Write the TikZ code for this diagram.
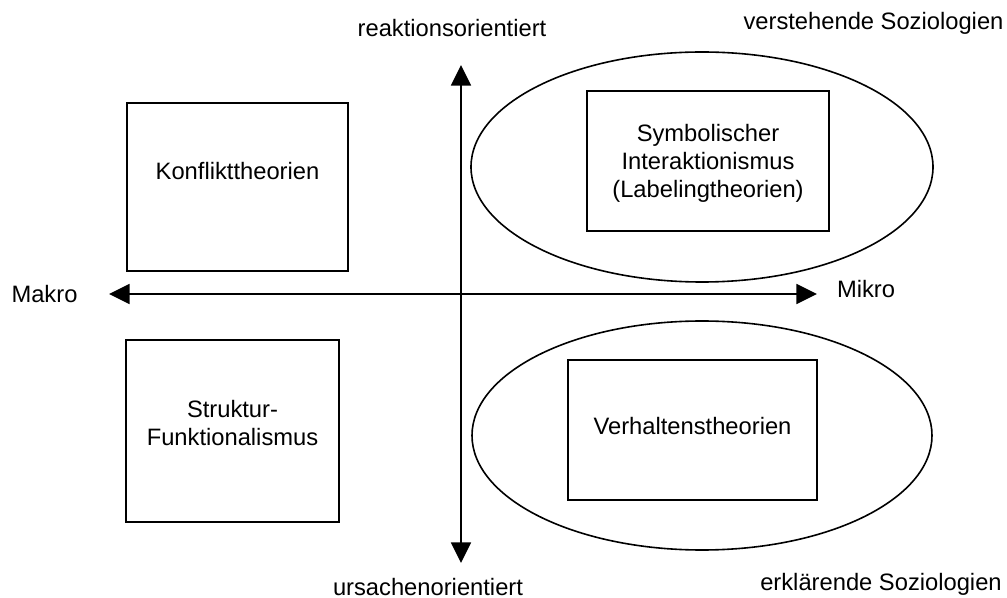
\documentclass[tikz,border=0pt]{standalone}
\usepackage{fontspec}
\setmainfont{Liberation Sans}
\usetikzlibrary{shapes.geometric,arrows.meta}
\begin{document}
\begin{tikzpicture}[x=0.75pt,y=-0.75pt,
  box/.style={draw,line width=1.3pt,rectangle,inner sep=0pt},
  oval/.style={draw,line width=1.2pt,ellipse,inner sep=0pt},
  lbl/.style={font=\fontsize{17.8}{21}\selectfont,inner sep=0pt,align=center},
  axis/.style={line width=1.3pt,{Triangle[length=15.5pt,width=15pt]}-{Triangle[length=15.5pt,width=15pt]}}]
\useasboundingbox (0,0) rectangle (1007,598);
% ellipses
\node[oval,minimum width=346.5pt,minimum height=172.5pt] (eTop) at (702,167) {};
\node[oval,minimum width=345pt,minimum height=171.75pt] (eBot) at (702,435.5) {};
% boxes
\node[box,minimum width=165.75pt,minimum height=126pt] (bK) at (237.5,187) {};
\node[box,minimum width=159.75pt,minimum height=136.5pt] (bS) at (232.5,431) {};
\node[box,minimum width=181.5pt,minimum height=105pt] (bY) at (708,161) {};
\node[box,minimum width=186.75pt,minimum height=105pt] (bV) at (692.5,430) {};
% box texts
\node[lbl,anchor=base] (tK) at (237.5,180) {Konflikttheorien};
\node[lbl] (tS) at (232.5,423) {Struktur-\\Funktionalismus};
\node[lbl] (tY) at (708,163) {Symbolischer\\Interaktionismus\\(Labelingtheorien)};
\node[lbl,anchor=base] (tV) at (692.5,435) {Verhaltenstheorien};
% axes
\coordinate (L) at (109,294);
\coordinate (R) at (817,294);
\coordinate (T) at (461,65);
\coordinate (B) at (461,563);
\draw[axis] (L) -- (R);
\draw[axis] (B) -- (T);
% axis labels
\node[lbl,anchor=base] (reak) at (452,36.5) {reaktionsorientiert};
\node[lbl,anchor=base] (ursa) at (428,595) {ursachenorientiert};
\node[lbl,anchor=base] (makro) at (44.5,303) {Makro};
\node[lbl,anchor=base] (mikro) at (866,298) {Mikro};
\node[lbl,anchor=base] (verst) at (873.5,29.5) {verstehende Soziologien};
\node[lbl,anchor=base] (erkl) at (881,590) {erklärende Soziologien};
\end{tikzpicture}
\end{document}
